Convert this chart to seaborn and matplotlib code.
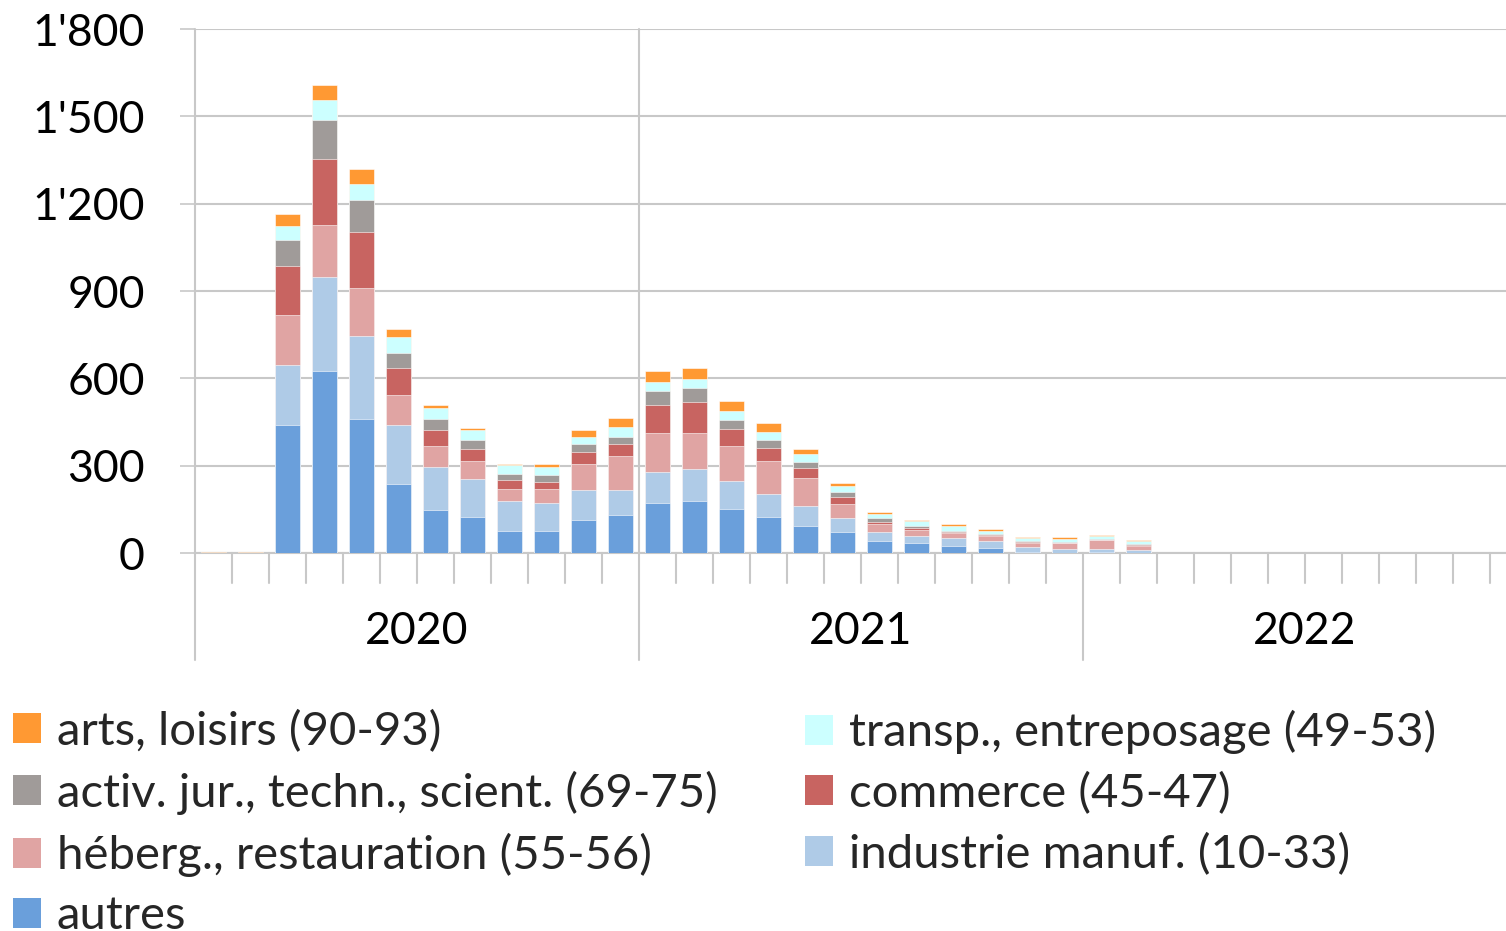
import numpy as np
import pandas as pd
import matplotlib
matplotlib.use("Agg")
import matplotlib.pyplot as plt
import matplotlib.transforms as mtransforms
from matplotlib.patches import Patch
import seaborn as sns

# months Jan 2020 .. Dec 2022
months = [d.strftime("%Y-%m") for d in pd.date_range("2020-01-01", periods=36, freq="MS")]
years = ["2020", "2021", "2022"]

autres = [0, 0, 439, 624, 460, 236, 146, 124, 77, 77, 115, 131,
          172, 177, 152, 124, 94, 73, 40, 35, 25, 18, 5, 1,
          5, 1, 0, 0, 0, 0, 0, 0, 0, 0, 0, 0]
industrie = [0, 0, 208, 323, 287, 203, 150, 129, 101, 96, 101, 85,
             105, 111, 95, 80, 68, 47, 33, 22, 26, 23, 15, 13,
             9, 10, 0, 0, 0, 0, 0, 0, 0, 0, 0, 0]
heberg = [0, 0, 169, 180, 163, 105, 70, 63, 42, 47, 91, 116,
          134, 123, 121, 112, 96, 48, 27, 22, 18, 17, 14, 19,
          29, 14, 0, 0, 0, 0, 0, 0, 0, 0, 0, 0]
commerce = [0, 0, 169, 228, 191, 91, 56, 41, 32, 25, 41, 42,
            97, 107, 57, 46, 35, 25, 8, 7, 4, 4, 3, 3,
            3, 3, 0, 0, 0, 0, 0, 0, 0, 0, 0, 0]
activ = [0, 0, 89, 131, 110, 53, 38, 31, 21, 23, 26, 26,
         48, 48, 32, 26, 21, 17, 11, 7, 4, 4, 3, 3,
         2, 2, 0, 0, 0, 0, 0, 0, 0, 0, 0, 0]
transp = [0, 0, 49, 70, 58, 53, 37, 34, 28, 28, 26, 32,
          33, 32, 32, 27, 27, 21, 16, 16, 16, 11, 10, 10,
          9, 10, 0, 0, 0, 0, 0, 0, 0, 0, 0, 0]
arts = [4, 4, 41, 53, 49, 28, 12, 9, 5, 10, 22, 32,
        37, 38, 32, 32, 16, 10, 5, 6, 6, 5, 5, 5,
        5, 5, 0, 0, 0, 0, 0, 0, 0, 0, 0, 0]

# stacking order bottom -> top
series = [
    ("autres", autres, "#6A9FDB"),
    ("industrie manuf. (10-33)", industrie, "#AFCBE7"),
    ("héberg., restauration (55-56)", heberg, "#E0A4A3"),
    ("commerce (45-47)", commerce, "#C86461"),
    ("activ. jur., techn., scient. (69-75)", activ, "#A09B99"),
    ("transp., entreposage (49-53)", transp, "#CCFFFF"),
    ("arts, loisirs (90-93)", arts, "#FF9933"),
]

sns.set_theme(style="white")
plt.rcParams["font.family"] = ["Lato", "DejaVu Sans"]

fig = plt.figure(figsize=(15.06, 9.31), dpi=100)
# plot area runs past the right edge (the source image is cropped there)
ax = fig.add_axes([195 / 1506, 1 - 553 / 931, 1332 / 1506, 524 / 931])

df = pd.DataFrame({name: vals for name, vals, _ in series}, index=months)
cum = df.cumsum(axis=1)

# draw cumulative totals from top layer down so they stack visually
for name, _, color in reversed(series):
    sns.barplot(x=months, y=cum[name].values, color=color, saturation=1,
                width=0.70, edgecolor="white", linewidth=0.4, ax=ax, zorder=3)

grid_c = "#C8C8C8"
ax.set_xlim(-0.5, 35.5)
ax.set_ylim(0, 1800)
ax.set_yticks(np.arange(0, 1801, 300))
ax.set_yticklabels([f"{v:,}".replace(",", "'") for v in range(0, 1801, 300)])
ax.yaxis.grid(True, color=grid_c, lw=1.5, zorder=0)
ax.tick_params(axis="y", length=11, width=1.2, color=grid_c, pad=25,
               labelsize=32, labelcolor="black", left=True)
ax.set_xticks([])
ax.set_xlabel("")
for s in ["top", "right"]:
    ax.spines[s].set_visible(False)
ax.spines["left"].set_visible(False)
ax.spines["bottom"].set_color(grid_c)
ax.spines["bottom"].set_linewidth(1.5)

trans = mtransforms.blended_transform_factory(ax.transData, ax.transAxes)
px = 1 / 524
# month ticks below axis
for b in np.arange(0.5, 35.5, 1.0):
    if b in (11.5, 23.5):
        continue
    ax.plot([b, b], [0, -30 * px], transform=trans, color=grid_c, lw=1.5, clip_on=False)
# year separators
ax.plot([-0.5, -0.5], [1, -107 * px], transform=trans, color=grid_c, lw=1.5, clip_on=False)
ax.plot([11.5, 11.5], [1, -107 * px], transform=trans, color=grid_c, lw=1.5, clip_on=False, zorder=1)
ax.plot([23.5, 23.5], [0, -107 * px], transform=trans, color=grid_c, lw=1.5, clip_on=False)
for i, y in enumerate(years):
    ax.text(i * 12 + 5.5, -78 * px, y, transform=trans, ha="center", va="center",
            fontsize=32, color="black")

handles = [Patch(facecolor=c, edgecolor="none", label=n) for n, _, c in series]
by_name = {h.get_label(): h for h in handles}
col1 = ["arts, loisirs (90-93)", "activ. jur., techn., scient. (69-75)",
        "héberg., restauration (55-56)", "autres"]
col2 = ["transp., entreposage (49-53)", "commerce (45-47)", "industrie manuf. (10-33)"]
leg_kw = dict(loc="upper left", frameon=False, fontsize=34, handlelength=0.6,
              handleheight=0.6, handletextpad=0.33, labelspacing=0.38, borderpad=0,
              borderaxespad=0)
fig.legend([by_name[n] for n in col1], col1, bbox_to_anchor=(13 / 1506, 1 - 710 / 931), **leg_kw)
fig.legend([by_name[n] for n in col2], col2, bbox_to_anchor=(805 / 1506, 1 - 710 / 931), **leg_kw)

fig.savefig("out.png", dpi=100)
